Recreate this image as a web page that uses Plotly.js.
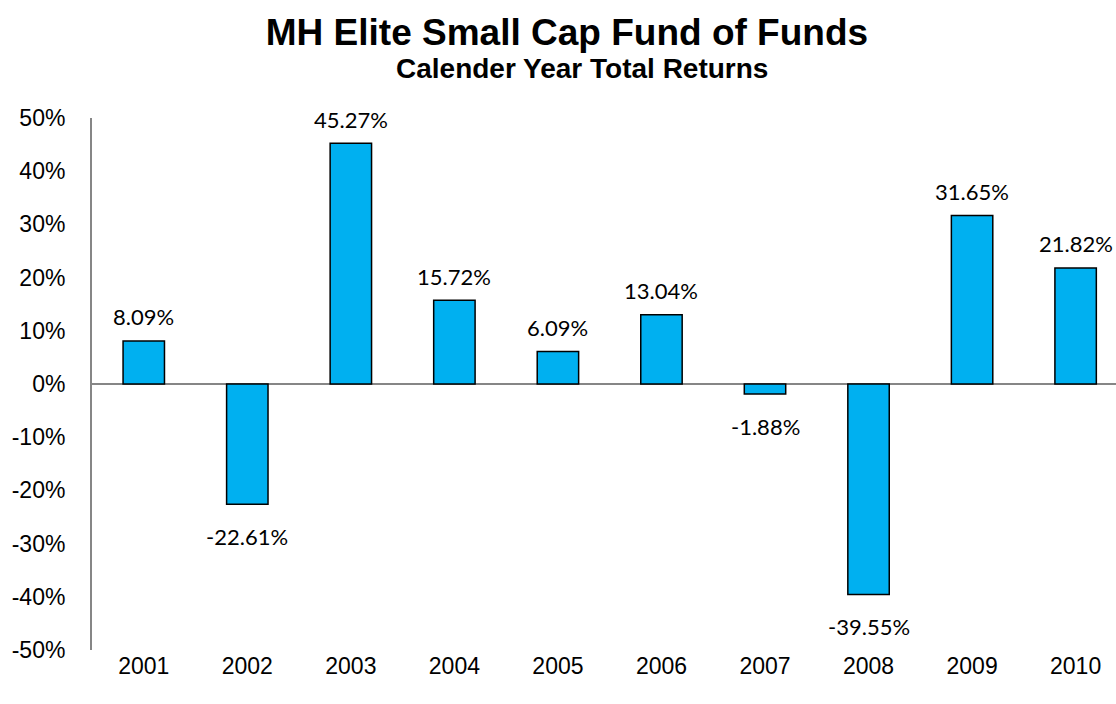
<!DOCTYPE html>
<html>
<head>
<meta charset="utf-8">
<script src="https://cdn.plot.ly/plotly-3.0.1.min.js"></script>
<style>html,body{margin:0;padding:0;background:#fff;}#chart{width:1116px;height:704px;}</style>
</head>
<body>
<div id="chart"></div>
<script>
const years = ['2001','2002','2003','2004','2005','2006','2007','2008','2009','2010'];
const returns = [8.09, -22.61, 45.27, 15.72, 6.09, 13.04, -1.88, -39.55, 31.65, 21.82];
const yTicks = [50, 40, 30, 20, 10, 0, -10, -20, -30, -40, -50];
const yTickText = yTicks.map(v => v + '%');

const trace = {
  type: 'bar',
  x: years,
  y: returns,
  width: 0.4,
  marker: {color: '#00B0F0', line: {color: '#000000', width: 1.5}},
  hoverinfo: 'none'
};

const annotations = years.map((yr, i) => ({
  x: i, y: returns[i], xref: 'x', yref: 'y',
  text: returns[i].toFixed(2) + '%',
  showarrow: false,
  yshift: returns[i] >= 0 ? 24 : -32,
  font: {family: 'Lato, "Open Sans", sans-serif', size: 22, color: '#000'}
}));

annotations.push({
  xref: 'paper', yref: 'paper', x: (582 - 92) / 1024, y: 1, yanchor: 'middle',
  yshift: 50,
  text: '<b>Calender Year Total Returns</b>', showarrow: false,
  font: {family: '"Liberation Sans", Arial, sans-serif', size: 28, color: '#000'}
});

const layout = {
  width: 1116, height: 704,
  margin: {l: 92, r: 0, t: 118, b: 54},
  paper_bgcolor: '#fff', plot_bgcolor: '#fff',
  showlegend: false,
  title: {
    text: '<b>MH Elite Small Cap Fund of Funds</b>',
    x: 0.508, xanchor: 'center', xref: 'container',
    y: 0.955, yanchor: 'middle',
    font: {family: '"Liberation Sans", Arial, sans-serif', size: 37, color: '#000'}
  },
  xaxis: {
    type: 'category',
    range: [-0.5, 9.39],
    showline: false, showgrid: false, zeroline: false,
    ticks: '',
    tickfont: {family: '"Liberation Sans", Arial, sans-serif', size: 23, color: '#000'},
    ticklabelstandoff: 0
  },
  yaxis: {
    range: [-50, 50],
    tickvals: yTicks, ticktext: yTickText,
    showline: true, linecolor: '#868686', linewidth: 2,
    showgrid: false,
    zeroline: true, zerolinecolor: '#868686', zerolinewidth: 2,
    ticks: '',
    ticklabelstandoff: 20,
    tickfont: {family: '"Liberation Sans", Arial, sans-serif', size: 23, color: '#000'}
  },
  annotations: annotations
};

Plotly.newPlot('chart', [trace], layout, {displayModeBar: false, staticPlot: true});
</script>
</body>
</html>
